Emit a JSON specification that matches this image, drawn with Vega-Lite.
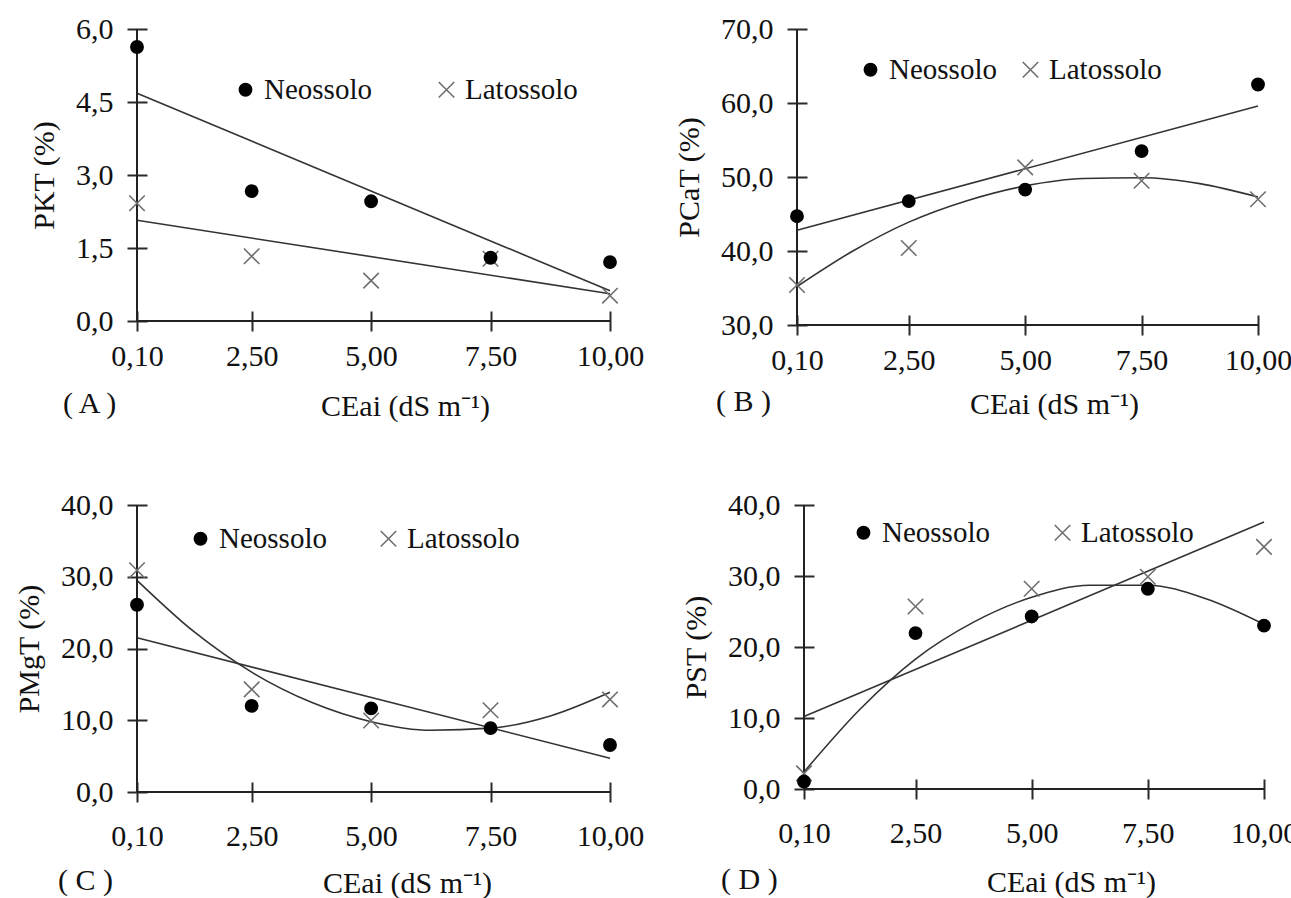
{
  "$schema": "https://vega.github.io/schema/vega-lite/v6.json",
  "background": "white",
  "padding": {"left": 14, "top": 14, "right": 0, "bottom": 0},
  "datasets": {
    "pts": [
      {"p": "A", "soil": "Latossolo", "ce": 0.1, "v": 2.42},
      {"p": "A", "soil": "Latossolo", "ce": 2.5, "v": 1.33},
      {"p": "A", "soil": "Latossolo", "ce": 5.0, "v": 0.83},
      {"p": "A", "soil": "Latossolo", "ce": 7.5, "v": 1.28},
      {"p": "A", "soil": "Latossolo", "ce": 10.0, "v": 0.52},
      {"p": "A", "soil": "Neossolo", "ce": 0.1, "v": 5.63},
      {"p": "A", "soil": "Neossolo", "ce": 2.5, "v": 2.67},
      {"p": "A", "soil": "Neossolo", "ce": 5.0, "v": 2.46},
      {"p": "A", "soil": "Neossolo", "ce": 7.5, "v": 1.30},
      {"p": "A", "soil": "Neossolo", "ce": 10.0, "v": 1.21},
      {"p": "B", "soil": "Latossolo", "ce": 0.1, "v": 35.4},
      {"p": "B", "soil": "Latossolo", "ce": 2.5, "v": 40.4},
      {"p": "B", "soil": "Latossolo", "ce": 5.0, "v": 51.3},
      {"p": "B", "soil": "Latossolo", "ce": 7.5, "v": 49.5},
      {"p": "B", "soil": "Latossolo", "ce": 10.0, "v": 47.0},
      {"p": "B", "soil": "Neossolo", "ce": 0.1, "v": 44.7},
      {"p": "B", "soil": "Neossolo", "ce": 2.5, "v": 46.75},
      {"p": "B", "soil": "Neossolo", "ce": 5.0, "v": 48.3},
      {"p": "B", "soil": "Neossolo", "ce": 7.5, "v": 53.5},
      {"p": "B", "soil": "Neossolo", "ce": 10.0, "v": 62.5},
      {"p": "C", "soil": "Latossolo", "ce": 0.1, "v": 30.9},
      {"p": "C", "soil": "Latossolo", "ce": 2.5, "v": 14.3},
      {"p": "C", "soil": "Latossolo", "ce": 5.0, "v": 9.97},
      {"p": "C", "soil": "Latossolo", "ce": 7.5, "v": 11.4},
      {"p": "C", "soil": "Latossolo", "ce": 10.0, "v": 12.9},
      {"p": "C", "soil": "Neossolo", "ce": 0.1, "v": 26.1},
      {"p": "C", "soil": "Neossolo", "ce": 2.5, "v": 12.0},
      {"p": "C", "soil": "Neossolo", "ce": 5.0, "v": 11.65},
      {"p": "C", "soil": "Neossolo", "ce": 7.5, "v": 8.9},
      {"p": "C", "soil": "Neossolo", "ce": 10.0, "v": 6.55},
      {"p": "D", "soil": "Latossolo", "ce": 0.1, "v": 2.2},
      {"p": "D", "soil": "Latossolo", "ce": 2.5, "v": 25.7},
      {"p": "D", "soil": "Latossolo", "ce": 5.0, "v": 28.2},
      {"p": "D", "soil": "Latossolo", "ce": 7.5, "v": 29.9},
      {"p": "D", "soil": "Latossolo", "ce": 10.0, "v": 34.1},
      {"p": "D", "soil": "Neossolo", "ce": 0.1, "v": 1.03},
      {"p": "D", "soil": "Neossolo", "ce": 2.5, "v": 21.96},
      {"p": "D", "soil": "Neossolo", "ce": 5.0, "v": 24.3},
      {"p": "D", "soil": "Neossolo", "ce": 7.5, "v": 28.2},
      {"p": "D", "soil": "Neossolo", "ce": 10.0, "v": 23.0}
    ],
    "fit": [
      {"p": "A", "soil": "Neossolo", "ce": 0.1, "v": 4.68},
      {"p": "A", "soil": "Neossolo", "ce": 10.0, "v": 0.62},
      {"p": "A", "soil": "Latossolo", "ce": 0.1, "v": 2.07},
      {"p": "A", "soil": "Latossolo", "ce": 10.0, "v": 0.56},
      {"p": "B", "soil": "Neossolo", "ce": 0.1, "v": 42.8},
      {"p": "B", "soil": "Neossolo", "ce": 10.0, "v": 59.6},
      {"p": "B", "soil": "Latossolo", "ce": 0.1, "v": 35.2},
      {"p": "B", "soil": "Latossolo", "ce": 1.3, "v": 40.0},
      {"p": "B", "soil": "Latossolo", "ce": 2.5, "v": 43.9},
      {"p": "B", "soil": "Latossolo", "ce": 3.75, "v": 46.8},
      {"p": "B", "soil": "Latossolo", "ce": 5.0, "v": 48.8},
      {"p": "B", "soil": "Latossolo", "ce": 6.25, "v": 49.8},
      {"p": "B", "soil": "Latossolo", "ce": 7.5, "v": 49.9},
      {"p": "B", "soil": "Latossolo", "ce": 8.75, "v": 49.1},
      {"p": "B", "soil": "Latossolo", "ce": 10.0, "v": 47.3},
      {"p": "C", "soil": "Neossolo", "ce": 0.1, "v": 21.5},
      {"p": "C", "soil": "Neossolo", "ce": 10.0, "v": 4.7},
      {"p": "C", "soil": "Latossolo", "ce": 0.1, "v": 29.5},
      {"p": "C", "soil": "Latossolo", "ce": 1.3, "v": 22.3},
      {"p": "C", "soil": "Latossolo", "ce": 2.5, "v": 16.7},
      {"p": "C", "soil": "Latossolo", "ce": 3.75, "v": 12.5},
      {"p": "C", "soil": "Latossolo", "ce": 5.0, "v": 9.8},
      {"p": "C", "soil": "Latossolo", "ce": 6.25, "v": 8.6},
      {"p": "C", "soil": "Latossolo", "ce": 7.5, "v": 8.9},
      {"p": "C", "soil": "Latossolo", "ce": 8.75, "v": 10.6},
      {"p": "C", "soil": "Latossolo", "ce": 10.0, "v": 13.9},
      {"p": "D", "soil": "Latossolo", "ce": 0.1, "v": 10.2},
      {"p": "D", "soil": "Latossolo", "ce": 10.0, "v": 37.6},
      {"p": "D", "soil": "Neossolo", "ce": 0.1, "v": 2.4},
      {"p": "D", "soil": "Neossolo", "ce": 1.3, "v": 11.2},
      {"p": "D", "soil": "Neossolo", "ce": 2.5, "v": 18.3},
      {"p": "D", "soil": "Neossolo", "ce": 3.75, "v": 23.5},
      {"p": "D", "soil": "Neossolo", "ce": 5.0, "v": 27.0},
      {"p": "D", "soil": "Neossolo", "ce": 6.25, "v": 28.7},
      {"p": "D", "soil": "Neossolo", "ce": 7.5, "v": 28.7},
      {"p": "D", "soil": "Neossolo", "ce": 8.75, "v": 26.8},
      {"p": "D", "soil": "Neossolo", "ce": 10.0, "v": 23.2}
    ]
  },
  "vconcat": [
    {
      "hconcat": [
        {
          "width": 473, "height": 292,
          "title": {"text": "( A )", "dx": -74},
          "layer": [
            {"data": {"name": "fit"}, "transform": [{"filter": "datum.p === 'A'"}],
             "mark": {"type": "line", "color": "#333333", "strokeWidth": 1.6, "interpolate": "monotone", "clip": false},
             "encoding": {
               "x": {"field": "ce", "type": "quantitative", "scale": {"domain": [0.1, 10], "nice": false, "zero": false},
                     "axis": {"values": [0.1, 2.5, 5, 7.5, 10], "labelExpr": "replace(format(datum.value, '.2f'), '.', ',')", "labelFont": "Liberation Serif", "titleFont": "Liberation Serif", "title": "CEai (dS m⁻¹)", "titleX": 268, "titleY": 104, "titleBaseline": "alphabetic", "labelPadding": 10}},
               "y": {"field": "v", "type": "quantitative", "scale": {"domain": [0, 6], "nice": false, "zero": false},
                     "axis": {"values": [0, 1.5, 3, 4.5, 6], "labelExpr": "replace(format(datum.value, '.1f'), '.', ',')", "labelFont": "Liberation Serif", "titleFont": "Liberation Serif", "title": "PKT (%)"}},
               "detail": {"field": "soil"}
             }},
            {"data": {"values": [{}]}, "mark": {"type": "rule", "color": "#222222", "strokeWidth": 2},
             "encoding": {"x": {"datum": 0.1, "type": "quantitative", "scale": {"domain": [0.1, 10], "nice": false, "zero": false}},
                          "y": {"datum": 0, "type": "quantitative", "scale": {"domain": [0, 6], "nice": false, "zero": false}},
                          "y2": {"datum": 6}}},
            {"data": {"values": [{}]}, "mark": {"type": "rule", "color": "#222222", "strokeWidth": 2},
             "encoding": {"x": {"datum": 0.1, "type": "quantitative", "scale": {"domain": [0.1, 10], "nice": false, "zero": false}},
                          "x2": {"datum": 10},
                          "y": {"datum": 0, "type": "quantitative", "scale": {"domain": [0, 6], "nice": false, "zero": false}}}},
            {"data": {"name": "pts"}, "transform": [{"filter": "datum.p === 'A'"}],
             "mark": {"type": "point", "opacity": 1, "strokeWidth": 1.6, "clip": false},
             "encoding": {
               "x": {"field": "ce", "type": "quantitative", "scale": {"domain": [0.1, 10], "nice": false, "zero": false}},
               "y": {"field": "v", "type": "quantitative", "scale": {"domain": [0, 6], "nice": false, "zero": false}},
               "shape": {"field": "soil", "type": "nominal", "scale": {"domain": ["Neossolo", "Latossolo"], "range": ["circle", "M-1,-1L1,1M-1,1L1,-1"]}, "legend": {"title": null, "labelFont": "Liberation Serif", "orient": "none", "legendX": 94, "legendY": 46, "direction": "horizontal", "columnPadding": 60}},
               "fill": {"field": "soil", "type": "nominal", "scale": {"domain": ["Neossolo", "Latossolo"], "range": ["#000000", "transparent"]}, "legend": {"title": null, "labelFont": "Liberation Serif", "orient": "none", "legendX": 94, "legendY": 46, "direction": "horizontal", "columnPadding": 60}},
               "stroke": {"field": "soil", "type": "nominal", "scale": {"domain": ["Neossolo", "Latossolo"], "range": ["#000000", "#6e6e6e"]}, "legend": {"title": null, "labelFont": "Liberation Serif", "orient": "none", "legendX": 94, "legendY": 46, "direction": "horizontal", "columnPadding": 60}},
               "size": {"field": "soil", "type": "nominal", "scale": {"domain": ["Neossolo", "Latossolo"], "range": [150, 240]}, "legend": {"title": null, "labelFont": "Liberation Serif", "orient": "none", "legendX": 94, "legendY": 46, "direction": "horizontal", "columnPadding": 60}}
             }}
          ]
        },
        {
          "width": 461, "height": 296,
          "title": {"text": "( B )", "dx": -81},
          "layer": [
            {"data": {"name": "fit"}, "transform": [{"filter": "datum.p === 'B'"}],
             "mark": {"type": "line", "color": "#333333", "strokeWidth": 1.6, "interpolate": "monotone", "clip": false},
             "encoding": {
               "x": {"field": "ce", "type": "quantitative", "scale": {"domain": [0.1, 10], "nice": false, "zero": false},
                     "axis": {"values": [0.1, 2.5, 5, 7.5, 10], "labelExpr": "replace(format(datum.value, '.2f'), '.', ',')", "labelFont": "Liberation Serif", "titleFont": "Liberation Serif", "title": "CEai (dS m⁻¹)", "titleX": 257, "titleY": 98, "titleBaseline": "alphabetic", "labelPadding": 10}},
               "y": {"field": "v", "type": "quantitative", "scale": {"domain": [30, 70], "nice": false, "zero": false},
                     "axis": {"values": [30, 40, 50, 60, 70], "labelExpr": "replace(format(datum.value, '.1f'), '.', ',')", "labelFont": "Liberation Serif", "titleFont": "Liberation Serif", "title": "PCaT (%)"}},
               "detail": {"field": "soil"}
             }},
            {"data": {"values": [{}]}, "mark": {"type": "rule", "color": "#222222", "strokeWidth": 2},
             "encoding": {"x": {"datum": 0.1, "type": "quantitative", "scale": {"domain": [0.1, 10], "nice": false, "zero": false}},
                          "y": {"datum": 30, "type": "quantitative", "scale": {"domain": [30, 70], "nice": false, "zero": false}},
                          "y2": {"datum": 70}}},
            {"data": {"values": [{}]}, "mark": {"type": "rule", "color": "#222222", "strokeWidth": 2},
             "encoding": {"x": {"datum": 0.1, "type": "quantitative", "scale": {"domain": [0.1, 10], "nice": false, "zero": false}},
                          "x2": {"datum": 10},
                          "y": {"datum": 30, "type": "quantitative", "scale": {"domain": [30, 70], "nice": false, "zero": false}}}},
            {"data": {"name": "pts"}, "transform": [{"filter": "datum.p === 'B'"}],
             "mark": {"type": "point", "opacity": 1, "strokeWidth": 1.6, "clip": false},
             "encoding": {
               "x": {"field": "ce", "type": "quantitative", "scale": {"domain": [0.1, 10], "nice": false, "zero": false}},
               "y": {"field": "v", "type": "quantitative", "scale": {"domain": [30, 70], "nice": false, "zero": false}},
               "shape": {"field": "soil", "type": "nominal", "scale": {"domain": ["Neossolo", "Latossolo"], "range": ["circle", "M-1,-1L1,1M-1,1L1,-1"]}, "legend": {"title": null, "labelFont": "Liberation Serif", "orient": "none", "legendX": 59, "legendY": 26, "direction": "horizontal", "columnPadding": 19}},
               "fill": {"field": "soil", "type": "nominal", "scale": {"domain": ["Neossolo", "Latossolo"], "range": ["#000000", "transparent"]}, "legend": {"title": null, "labelFont": "Liberation Serif", "orient": "none", "legendX": 59, "legendY": 26, "direction": "horizontal", "columnPadding": 19}},
               "stroke": {"field": "soil", "type": "nominal", "scale": {"domain": ["Neossolo", "Latossolo"], "range": ["#000000", "#6e6e6e"]}, "legend": {"title": null, "labelFont": "Liberation Serif", "orient": "none", "legendX": 59, "legendY": 26, "direction": "horizontal", "columnPadding": 19}},
               "size": {"field": "soil", "type": "nominal", "scale": {"domain": ["Neossolo", "Latossolo"], "range": [150, 240]}, "legend": {"title": null, "labelFont": "Liberation Serif", "orient": "none", "legendX": 59, "legendY": 26, "direction": "horizontal", "columnPadding": 19}}
             }}
          ]
        }
      ],
      "spacing": 187,
      "bounds": "flush",
      "resolve": {"scale": {"shape": "independent", "fill": "independent", "stroke": "independent", "size": "independent"}, "legend": {"shape": "independent", "fill": "independent", "stroke": "independent", "size": "independent"}}
    },
    {
      "hconcat": [
        {
          "width": 473, "height": 287,
          "title": {"text": "( C )", "dx": -79},
          "layer": [
            {"data": {"name": "fit"}, "transform": [{"filter": "datum.p === 'C'"}],
             "mark": {"type": "line", "color": "#333333", "strokeWidth": 1.6, "interpolate": "monotone", "clip": false},
             "encoding": {
               "x": {"field": "ce", "type": "quantitative", "scale": {"domain": [0.1, 10], "nice": false, "zero": false},
                     "axis": {"values": [0.1, 2.5, 5, 7.5, 10], "labelExpr": "replace(format(datum.value, '.2f'), '.', ',')", "labelFont": "Liberation Serif", "titleFont": "Liberation Serif", "title": "CEai (dS m⁻¹)", "titleX": 270, "titleY": 110, "titleBaseline": "alphabetic", "labelPadding": 19}},
               "y": {"field": "v", "type": "quantitative", "scale": {"domain": [0, 40], "nice": false, "zero": false},
                     "axis": {"values": [0, 10, 20, 30, 40], "labelExpr": "replace(format(datum.value, '.1f'), '.', ',')", "labelFont": "Liberation Serif", "titleFont": "Liberation Serif", "title": "PMgT (%)"}},
               "detail": {"field": "soil"}
             }},
            {"data": {"values": [{}]}, "mark": {"type": "rule", "color": "#222222", "strokeWidth": 2},
             "encoding": {"x": {"datum": 0.1, "type": "quantitative", "scale": {"domain": [0.1, 10], "nice": false, "zero": false}},
                          "y": {"datum": 0, "type": "quantitative", "scale": {"domain": [0, 40], "nice": false, "zero": false}},
                          "y2": {"datum": 40}}},
            {"data": {"values": [{}]}, "mark": {"type": "rule", "color": "#222222", "strokeWidth": 2},
             "encoding": {"x": {"datum": 0.1, "type": "quantitative", "scale": {"domain": [0.1, 10], "nice": false, "zero": false}},
                          "x2": {"datum": 10},
                          "y": {"datum": 0, "type": "quantitative", "scale": {"domain": [0, 40], "nice": false, "zero": false}}}},
            {"data": {"name": "pts"}, "transform": [{"filter": "datum.p === 'C'"}],
             "mark": {"type": "point", "opacity": 1, "strokeWidth": 1.6, "clip": false},
             "encoding": {
               "x": {"field": "ce", "type": "quantitative", "scale": {"domain": [0.1, 10], "nice": false, "zero": false}},
               "y": {"field": "v", "type": "quantitative", "scale": {"domain": [0, 40], "nice": false, "zero": false}},
               "shape": {"field": "soil", "type": "nominal", "scale": {"domain": ["Neossolo", "Latossolo"], "range": ["circle", "M-1,-1L1,1M-1,1L1,-1"]}, "legend": {"title": null, "labelFont": "Liberation Serif", "orient": "none", "legendX": 49, "legendY": 19, "direction": "horizontal", "columnPadding": 47}},
               "fill": {"field": "soil", "type": "nominal", "scale": {"domain": ["Neossolo", "Latossolo"], "range": ["#000000", "transparent"]}, "legend": {"title": null, "labelFont": "Liberation Serif", "orient": "none", "legendX": 49, "legendY": 19, "direction": "horizontal", "columnPadding": 47}},
               "stroke": {"field": "soil", "type": "nominal", "scale": {"domain": ["Neossolo", "Latossolo"], "range": ["#000000", "#6e6e6e"]}, "legend": {"title": null, "labelFont": "Liberation Serif", "orient": "none", "legendX": 49, "legendY": 19, "direction": "horizontal", "columnPadding": 47}},
               "size": {"field": "soil", "type": "nominal", "scale": {"domain": ["Neossolo", "Latossolo"], "range": [150, 240]}, "legend": {"title": null, "labelFont": "Liberation Serif", "orient": "none", "legendX": 49, "legendY": 19, "direction": "horizontal", "columnPadding": 47}}
             }}
          ]
        },
        {
          "width": 460, "height": 284,
          "title": {"text": "( D )", "dx": -83},
          "layer": [
            {"data": {"name": "fit"}, "transform": [{"filter": "datum.p === 'D'"}],
             "mark": {"type": "line", "color": "#333333", "strokeWidth": 1.6, "interpolate": "monotone", "clip": false},
             "encoding": {
               "x": {"field": "ce", "type": "quantitative", "scale": {"domain": [0.1, 10], "nice": false, "zero": false},
                     "axis": {"values": [0.1, 2.5, 5, 7.5, 10], "labelExpr": "replace(format(datum.value, '.2f'), '.', ',')", "labelFont": "Liberation Serif", "titleFont": "Liberation Serif", "title": "CEai (dS m⁻¹)", "titleX": 267, "titleY": 112, "titleBaseline": "alphabetic", "labelPadding": 19}},
               "y": {"field": "v", "type": "quantitative", "scale": {"domain": [0, 40], "nice": false, "zero": false},
                     "axis": {"values": [0, 10, 20, 30, 40], "labelExpr": "replace(format(datum.value, '.1f'), '.', ',')", "labelFont": "Liberation Serif", "titleFont": "Liberation Serif", "title": "PST (%)"}},
               "detail": {"field": "soil"}
             }},
            {"data": {"values": [{}]}, "mark": {"type": "rule", "color": "#222222", "strokeWidth": 2},
             "encoding": {"x": {"datum": 0.1, "type": "quantitative", "scale": {"domain": [0.1, 10], "nice": false, "zero": false}},
                          "y": {"datum": 0, "type": "quantitative", "scale": {"domain": [0, 40], "nice": false, "zero": false}},
                          "y2": {"datum": 40}}},
            {"data": {"values": [{}]}, "mark": {"type": "rule", "color": "#222222", "strokeWidth": 2},
             "encoding": {"x": {"datum": 0.1, "type": "quantitative", "scale": {"domain": [0.1, 10], "nice": false, "zero": false}},
                          "x2": {"datum": 10},
                          "y": {"datum": 0, "type": "quantitative", "scale": {"domain": [0, 40], "nice": false, "zero": false}}}},
            {"data": {"name": "pts"}, "transform": [{"filter": "datum.p === 'D'"}],
             "mark": {"type": "point", "opacity": 1, "strokeWidth": 1.6, "clip": false},
             "encoding": {
               "x": {"field": "ce", "type": "quantitative", "scale": {"domain": [0.1, 10], "nice": false, "zero": false}},
               "y": {"field": "v", "type": "quantitative", "scale": {"domain": [0, 40], "nice": false, "zero": false}},
               "shape": {"field": "soil", "type": "nominal", "scale": {"domain": ["Neossolo", "Latossolo"], "range": ["circle", "M-1,-1L1,1M-1,1L1,-1"]}, "legend": {"title": null, "labelFont": "Liberation Serif", "orient": "none", "legendX": 45, "legendY": 13, "direction": "horizontal", "columnPadding": 58}},
               "fill": {"field": "soil", "type": "nominal", "scale": {"domain": ["Neossolo", "Latossolo"], "range": ["#000000", "transparent"]}, "legend": {"title": null, "labelFont": "Liberation Serif", "orient": "none", "legendX": 45, "legendY": 13, "direction": "horizontal", "columnPadding": 58}},
               "stroke": {"field": "soil", "type": "nominal", "scale": {"domain": ["Neossolo", "Latossolo"], "range": ["#000000", "#6e6e6e"]}, "legend": {"title": null, "labelFont": "Liberation Serif", "orient": "none", "legendX": 45, "legendY": 13, "direction": "horizontal", "columnPadding": 58}},
               "size": {"field": "soil", "type": "nominal", "scale": {"domain": ["Neossolo", "Latossolo"], "range": [150, 240]}, "legend": {"title": null, "labelFont": "Liberation Serif", "orient": "none", "legendX": 45, "legendY": 13, "direction": "horizontal", "columnPadding": 58}}
             }}
          ]
        }
      ],
      "spacing": 194,
      "bounds": "flush",
      "resolve": {"scale": {"shape": "independent", "fill": "independent", "stroke": "independent", "size": "independent"}, "legend": {"shape": "independent", "fill": "independent", "stroke": "independent", "size": "independent"}}
    }
  ],
  "spacing": 476,
  "bounds": "flush",
  "resolve": {"scale": {"shape": "independent", "fill": "independent", "stroke": "independent", "size": "independent"}, "legend": {"shape": "independent", "fill": "independent", "stroke": "independent", "size": "independent"}},
  "config": {
    "view": {"stroke": null},
    "axis": {
      "domain": false, "grid": false, "ticks": true, "tickSize": 20, "tickWidth": 2, "tickColor": "#2a2a2a",
      "offset": -10, "labelFlush": false, "labelOverlap": false,
      "labelFont": "Liberation Serif", "labelFontSize": 30, "labelColor": "#111111", "labelPadding": 14,
      "titleFont": "Liberation Serif", "titleFontSize": 30, "titleFontWeight": "normal", "titleColor": "#111111", "titlePadding": 16
    },
    "legend": {
      "labelFont": "Liberation Serif", "labelFontSize": 29, "labelColor": "#111111", "labelOffset": 4,
      "padding": 0, "symbolStrokeWidth": 1.6, "rowPadding": 0
    },
    "title": {
      "font": "Liberation Serif", "fontSize": 30, "fontWeight": "normal", "color": "#111111",
      "orient": "bottom", "anchor": "start", "frame": "group", "baseline": "alphabetic", "offset": -32
    }
  }
}
